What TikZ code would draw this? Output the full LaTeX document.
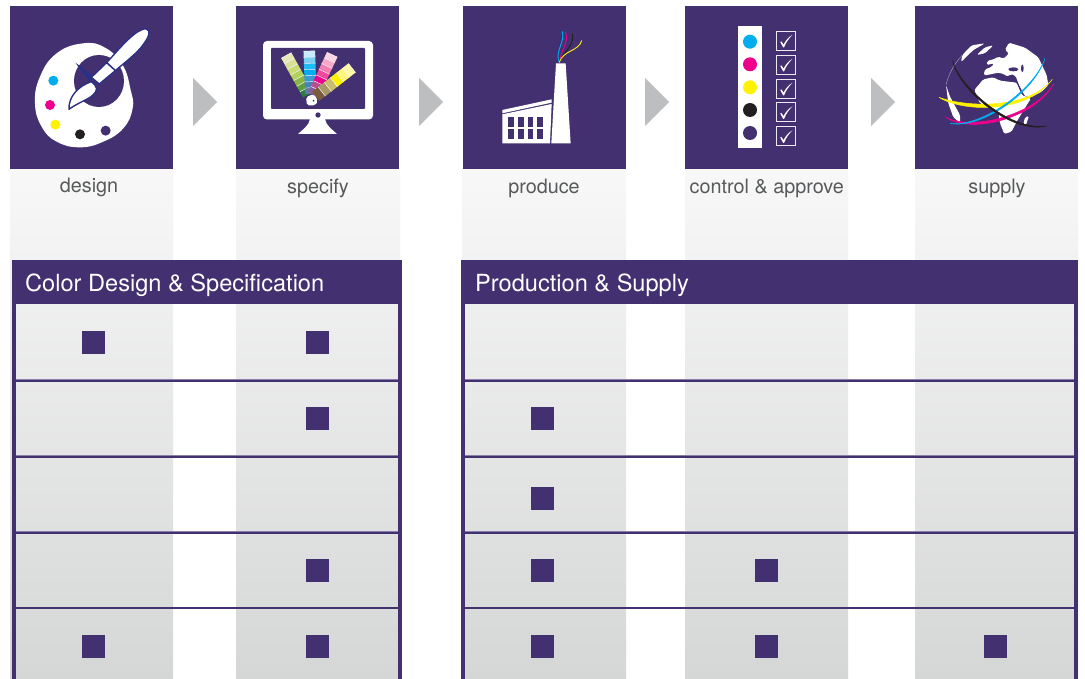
\documentclass[tikz,border=0pt]{standalone}
\usepackage{fontspec}
\setmainfont{TeX Gyre Heros}
\definecolor{brandp}{HTML}{433070}
\definecolor{brandl}{HTML}{8B7FA8}
\definecolor{navyb}{HTML}{2B3087}
\definecolor{arrowg}{HTML}{BCBEC0}
\definecolor{labelg}{HTML}{58595B}
\definecolor{ccy}{HTML}{00AEEF}
\definecolor{cma}{HTML}{EC008C}
\definecolor{cye}{HTML}{FFF200}
\definecolor{cbk}{HTML}{231F20}
\definecolor{bandtop}{HTML}{F8F8F8}
\definecolor{bandbot}{HTML}{D5D6D6}
\tikzset{
  iconbox/.style={fill=brandp,draw=none},
  chip/.style={fill=brandp,draw=none,minimum size=23pt,inner sep=0pt,outer sep=0pt},
  steplabel/.style={text=labelg,font=\fontsize{19.8}{22}\selectfont,anchor=base,inner sep=0pt},
  headlabel/.style={text=white,font=\fontsize{23.6}{26}\selectfont,anchor=base west,inner sep=0pt},
  chevron/.style={fill=arrowg,draw=none},
  rowlinedark/.style={draw=brandp,line width=1.6pt},
  rowlinelight/.style={draw=brandl,line width=0.9pt},
  colband/.style={top color=bandtop,bottom color=bandbot,draw=none},
  checkbox/.style={draw=white!90!brandp,line width=0.85pt,fill=none},
  swatchline/.style={draw=white,line width=0.45pt},
  brushpart/.style={draw=navyb,fill=white,line width=1.4pt,line join=round},
  smoke/.style={line width=0.9pt,line cap=round},
}
\newcommand{\swatch}[5]{%
  \begin{scope}[shift={(311,100)},rotate=#1]
    \foreach \c [count=\i from 0] in {#2} {
      \definecolor{swc}{HTML}{\c}
      \fill[swc] (-5.8,{-#3+\i*(#3-#4)/#5}) rectangle (5.8,{-#3+(\i+1)*(#3-#4)/#5});
      \draw[swatchline] (-5.8,{-#3+\i*(#3-#4)/#5}) -- (5.8,{-#3+\i*(#3-#4)/#5});
    }
  \end{scope}
}
\begin{document}
\begin{tikzpicture}[x=1pt,y=-1pt]
\useasboundingbox (0,0) rectangle (1085,679);
\fill[white] (0,0) rectangle (1085,679);

% columns
\foreach \xa/\xb in {10/173,236/400,462/626,685/848,915/1078}
  \shade[colband] (\xa,169) rectangle (\xb,679);

% icon squares
\foreach \xa/\xb in {10/173,236/399,463/626,685/848,915/1078}
  \fill[iconbox] (\xa,6) rectangle (\xb,169);

% chevrons
\foreach \xa in {193,419,645,871}
  \fill[chevron] (\xa,78) -- (\xa+24,102) -- (\xa,126) -- cycle;

% labels
\node[steplabel] (ldesign) at (89,193) {design};
\node[steplabel] (lspecify) at (318,193.5) {specify};
\node[steplabel] (lproduce) at (544,194) {produce};
\node[steplabel] (lcontrol) at (766.8,194) {control \& approve};
\node[steplabel] (lsupply) at (997,194) {supply};

% panels
\fill[brandp] (12,260) rectangle (402,304);
\fill[brandp] (461,260) rectangle (1078,304);
\foreach \xa/\xb in {12/15.5,398/402,461/465,1074/1078}
  \fill[brandp] (\xa,304) rectangle (\xb,679);
\foreach \yy in {381,457,532.7,608.2} {
  \draw[rowlinelight] (15.5,\yy-1.2) -- (398,\yy-1.2);
  \draw[rowlinedark] (15.5,\yy) -- (398,\yy);
  \draw[rowlinelight] (465,\yy-1.2) -- (1074,\yy-1.2);
  \draw[rowlinedark] (465,\yy) -- (1074,\yy);
}
\node[headlabel] (hleft) at (25,291) {Color Design \& Specification};
\node[headlabel] (hright) at (475,291) {Production \& Supply};

% chips
\node[chip] (a1) at (93.5,342) {};
\node[chip] (a2) at (317.5,342) {};
\node[chip] (b1) at (317.5,418.5) {};
\node[chip] (c1) at (317.5,570.5) {};
\node[chip] (d1) at (93.5,646) {};
\node[chip] (d2) at (317.5,646) {};
\node[chip] (e1) at (542.5,418.5) {};
\node[chip] (e2) at (542.5,498) {};
\node[chip] (e3) at (542.5,570.5) {};
\node[chip] (e4) at (766.5,570.5) {};
\node[chip] (e5) at (542.5,646) {};
\node[chip] (e6) at (766.5,646) {};
\node[chip] (e7) at (995,646) {};

% --- palette icon (zoomed coordinates, 1/3 scale)
\begin{scope}[x=0.3333pt,y=-0.3333pt]
  \fill[white] plot[smooth cycle,tension=0.75] coordinates {(250,130)(315,143)(368,195)(392,270)(398,325)(370,385)(310,425)(240,442)(170,425)(125,380)(105,310)(120,230)(170,160)};
  \fill[brandp] (297,243) ellipse [x radius=75,y radius=78];
  \fill[ccy] (160,242) circle[radius=15];
  \fill[cma] (150,315) circle[radius=15];
  \fill[cye] (166,374) circle[radius=15];
  \fill[cbk] (240,403) circle[radius=15];
  \fill[brandp] (317,392) circle[radius=15];
  \fill[navyb] (226,188) -- (284,230) -- (268,244) -- cycle;
  \draw[brushpart]
    (320,188) .. controls (355,150) and (395,100) .. (428,88)
    .. controls (448,82) and (452,98) .. (442,115)
    .. controls (420,155) and (385,178) .. (346,212) -- cycle;
  \draw[brushpart] (320,188) -- (346,212) -- (298,252) -- (274,232) -- cycle;
  \draw[brushpart]
    (207,328) .. controls (205,290) and (235,258) .. (274,245)
    .. controls (282,250) and (288,258) .. (290,266)
    .. controls (285,295) and (245,300) .. cycle;
\end{scope}

% --- monitor icon
\begin{scope}
  \fill[white,rounded corners=4pt] (263,41) rectangle (373,119.5);
  \fill[brandp,rounded corners=0.8pt] (271,48) rectangle (365,109);
  \fill[white] (305,119) -- (325,119) .. controls (326,126) and (333,130) .. (337,134) -- (298,134) .. controls (302,130) and (309,126) .. (310,119) -- cycle;
  \fill[brandp] (318,115) circle[radius=2.7];
  \swatch{29}{E6E9B5,D9E294,CBDB73,B2D05C,8CB644,5F9E3A,2A7A3D}{51}{6}{7}
  \swatch{2}{C9EAF9,7ACFF1,1FBEF2,00AEEF,3A9AD2,4A82B8,5C7CA8}{49}{6}{7}
  \swatch{-25}{FBD3E3,F6A9C9,F27DB0,EE4A99,EC008C,B84D92,8E5A9A}{50}{6}{7}
  \swatch{-52}{FFF9A8,FFF47C,FFF200,C9BC6A,A89868,7A5C3C}{52}{6}{6}
  \fill[white,rounded corners=2pt] (306,97) -- (314,94) -- (318,101) -- (315,105.5) -- (307,105.5) -- cycle;
  \fill[cbk] (313.5,100.8) circle[radius=0.9];
\end{scope}

% --- factory icon
\begin{scope}[shift={(460,0)},x=0.3333pt,y=-0.3333pt]
  \fill[white] (127,343) -- (275,312) -- (270,430) -- (127,430) -- cycle;
  \fill[white] (127,330) -- (275,298) -- (275,308) -- (127,340) -- cycle;
  \foreach \wx in {145,174,203,232}
    \foreach \wy in {350,388}
      \fill[brandp] (\wx,\wy) rectangle (\wx+17,\wy+30);
  \fill[white] (288,190) -- (317,190) -- (332,430) -- (274,430) -- cycle;
  \draw[navyb,smoke] (294,182) .. controls (282,150) and (310,130) .. (304,100);
  \draw[ccy,smoke] (297,185) .. controls (285,150) and (315,130) .. (307,95);
  \draw[cma,smoke] (300,185) .. controls (300,150) and (328,130) .. (317,97);
  \draw[cbk,smoke] (300,185) .. controls (310,155) and (345,135) .. (337,103);
  \draw[cye,smoke] (298,187) .. controls (310,150) and (355,155) .. (365,122);
\end{scope}

% --- control icon
\begin{scope}
  \fill[white] (738,26) rectangle (762,148);
  \fill[ccy] (750,41.7) circle[radius=7];
  \fill[cma] (750,64.3) circle[radius=7];
  \fill[cye] (750,87.3) circle[radius=7];
  \fill[cbk] (750,110) circle[radius=7];
  \fill[brandp] (750,133) circle[radius=7];
  \foreach \yy in {31,55,79,102.5,126.5} {
    \draw[checkbox] (776.3,\yy) rectangle +(19.4,19.4);
    \fill[white] (780.3,\yy+11) -- (781.2,\yy+10.3) -- (783.6,\yy+13.6) .. controls (785.5,\yy+9.5) and (788.5,\yy+6) .. (792.6,\yy+3.8) .. controls (788.8,\yy+7.3) and (786,\yy+11.5) .. (784,\yy+16.5) -- (783.2,\yy+16.5) -- cycle;
  }
\end{scope}

% --- globe icon
\begin{scope}[shift={(905,0)},x=0.3333pt,y=-0.3333pt]
  \begin{scope}[rounded corners=1.5pt]
  % Eurasia
  \fill[white] (312,128) -- (360,143) -- (400,172) -- (425,225) -- (430,255) -- (410,275) -- (378,292) -- (358,288) -- (340,250) -- (332,228) -- (318,222) -- (308,230) -- (296,222) -- (280,218) -- (252,224) -- (236,226) -- (240,208) -- (258,202) -- (268,190) -- (245,195) -- (248,182) -- (266,178) -- (280,170) -- (296,176) -- (312,160) -- (300,150) -- cycle;
  % Africa
  \fill[white] (208,270) -- (235,238) -- (265,232) -- (285,242) -- (335,248) -- (350,285) -- (378,295) -- (350,340) -- (335,365) -- (320,395) -- (298,402) -- (285,370) -- (280,335) -- (265,325) -- (225,310) -- cycle;
  % Greenland and Canada
  \fill[white] (168,186) -- (205,150) -- (240,130) -- (200,136) -- (172,165) -- cycle;
  \fill[white] (215,165) -- (240,142) -- (265,136) -- (240,160) -- cycle;
  % South America
  \fill[white] (123,255) -- (135,290) -- (165,345) -- (165,368) -- (145,352) -- (130,310) -- cycle;
  % Madagascar
  \fill[white] (360,352) -- (372,348) -- (362,378) -- (355,372) -- cycle;
  \end{scope}
  % faint limb on the left
  \draw[white!55!brandp,line width=0.4pt] (172,165) .. controls (145,195) and (130,225) .. (123,255);
  % inland seas
  \fill[brandp] (325,208) ellipse [x radius=15,y radius=6];
  \fill[brandp] (352,205) ellipse [x radius=4,y radius=11];
  \draw[brandp,line width=0.8pt] (338,252) -- (358,288);
  % rings
  \filldraw[cye,line width=0.5pt] (102,292) .. controls (170,335) and (360,345) .. (442,238) .. controls (370,330) and (180,322) .. cycle;
  \filldraw[cma,line width=0.5pt] (120,350) .. controls (190,405) and (390,358) .. (447,250) .. controls (390,348) and (190,395) .. cycle;
  \filldraw[ccy,line width=0.5pt] (135,370) .. controls (230,390) and (390,274) .. (420,175) .. controls (390,266) and (230,384) .. cycle;
  \filldraw[cbk,line width=0.5pt] (143,180) .. controls (150,254) and (310,406) .. (426,378) .. controls (310,396) and (155,250) .. cycle;
\end{scope}
\end{tikzpicture}
\end{document}
